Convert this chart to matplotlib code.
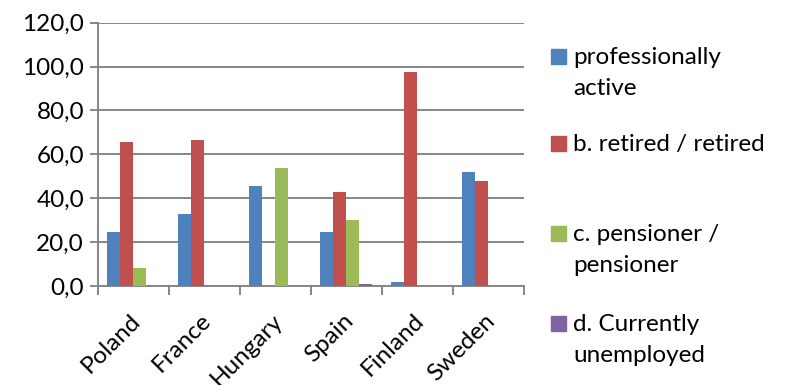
import matplotlib
matplotlib.use("Agg")
import matplotlib.pyplot as plt
from matplotlib.patches import Rectangle
from matplotlib.ticker import FuncFormatter, FixedLocator
from matplotlib.transforms import ScaledTranslation
import numpy as np

plt.rcParams['font.family'] = ['Lato', 'DejaVu Sans']

countries = ["Poland", "France", "Hungary", "Spain", "Finland", "Sweden"]
series_names = ["professionally\nactive", "b. retired / retired",
                "c. pensioner /\npensioner", "d. Currently\nunemployed"]
professionally_active = [24.6, 32.9, 45.7, 24.6, 1.8, 51.8]
retired = [65.8, 66.4, 0.0, 42.7, 97.5, 47.8]
pensioner = [8.4, 0.0, 53.6, 30.1, 0.0, 0.0]
unemployed = [0.0, 0.0, 0.0, 0.9, 0.0, 0.0]
colors = ["#4F81BD", "#C0504D", "#9BBB59", "#8064A2"]

all_series = [professionally_active, retired, pensioner, unemployed]

fig = plt.figure(figsize=(7.87, 3.85), dpi=100)
ax = fig.add_axes([0.1245, 0.2571, 0.5413, 0.6839])

x = np.arange(len(countries))
bw = 0.183
for i, (vals, c) in enumerate(zip(all_series, colors)):
    offs = (i - 1.5) * bw
    ax.bar(x + offs, vals, width=bw, color=c, edgecolor='none', zorder=3)

grid_c = "#868686"
ax.set_xlim(-0.5, len(countries) - 0.5)
ax.set_ylim(0, 120)
ax.set_yticks(np.arange(0, 121, 20))
ax.yaxis.set_major_formatter(FuncFormatter(lambda v, p: f"{v:.1f}".replace('.', ',')))
ax.yaxis.grid(True, color=grid_c, linewidth=1.4, zorder=0)
ax.set_axisbelow(True)

ax.set_xticks(x)
ax.set_xticklabels(countries, rotation=45, ha='right', rotation_mode='anchor')
ax.xaxis.set_minor_locator(FixedLocator(np.arange(-0.5, len(countries), 1.0)))
ax.tick_params(axis='x', which='major', length=0, pad=17, labelsize=17.5)
ax.tick_params(axis='x', which='minor', length=6.5, width=1.4, color=grid_c)
ax.tick_params(axis='y', length=6, width=1.4, color=grid_c, labelsize=17.5, pad=4)
shift = ScaledTranslation(-4 / 100, 0, fig.dpi_scale_trans)
for lbl in ax.get_xticklabels():
    lbl.set_transform(lbl.get_transform() + shift)

for side in ['top', 'right']:
    ax.spines[side].set_visible(False)
for side in ['left', 'bottom']:
    ax.spines[side].set_color(grid_c)
    ax.spines[side].set_linewidth(1.4)

# Legend drawn at fixed figure positions (y = centre of first text line, px)
W, H = 787, 385
entry_centres = [56, 143, 233, 323]
for name, c, cy in zip(series_names, colors, entry_centres):
    fig.patches.append(Rectangle((551 / W, 1 - (cy + 8) / H), 15 / W, 15 / H,
                                 transform=fig.transFigure, color=c))
    fig.text(573 / W, 1 - (cy - 9) / H, name, fontsize=17.5, va='top', ha='left',
             linespacing=1.6)

fig.savefig("out.png", dpi=100)
